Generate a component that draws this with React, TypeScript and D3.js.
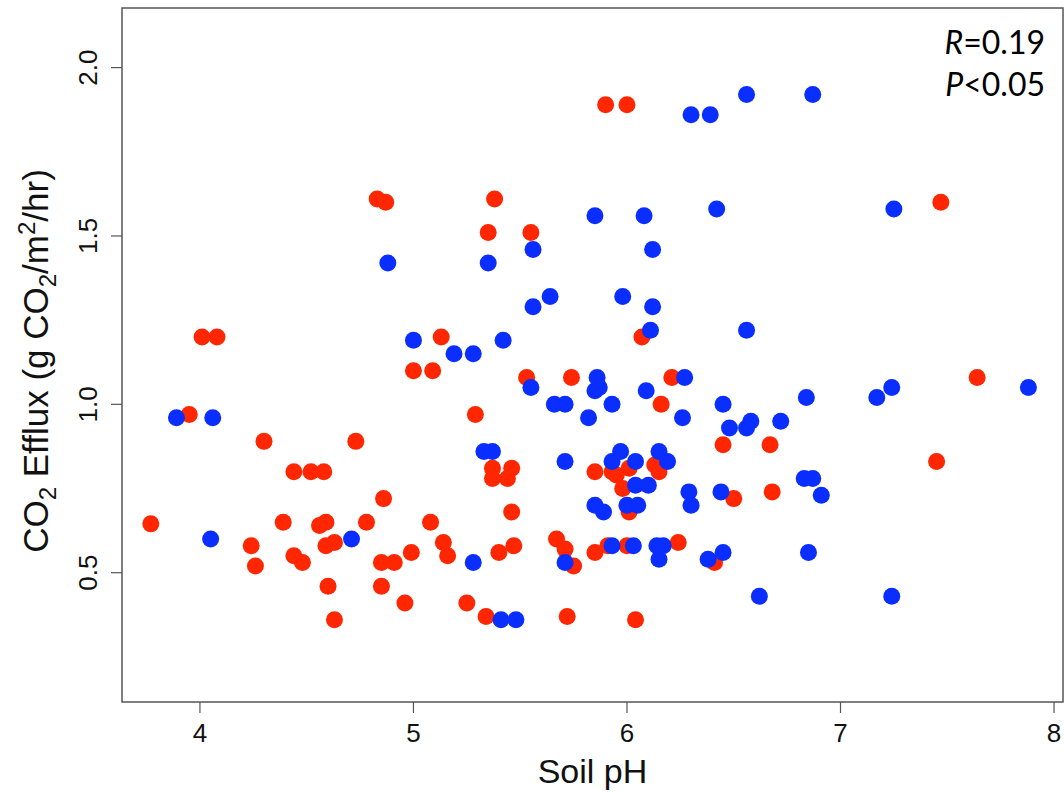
import * as d3 from "d3";

// red group (soil pH, CO2 efflux)
const redPH = [
  3.77, 3.95, 4.01, 4.08, 4.30, 4.24, 4.26, 4.39, 4.44, 4.44, 4.48, 4.52, 4.58, 4.56, 4.59, 4.59,
  4.63, 4.60, 4.63, 4.73, 4.78, 4.83, 4.87, 4.86, 4.85, 4.91, 4.85, 4.96, 4.99, 5.00, 5.09, 5.13,
  5.08, 5.14, 5.16, 5.25, 5.29, 5.35, 5.38, 5.34, 5.37, 5.37, 5.44, 5.46, 5.46, 5.40, 5.47, 5.53,
  5.55, 5.74, 5.67, 5.71, 5.75, 5.72, 5.90, 6.00, 5.85, 5.93, 5.95, 6.01, 5.98, 6.01, 6.13, 6.15,
  5.85, 5.91, 6.00, 6.24, 6.41, 6.04, 6.07, 6.21, 6.16, 6.45, 6.50, 6.67, 6.68, 7.45, 7.64, 7.47,
];
const redFlux = [
  0.645, 0.97, 1.20, 1.20, 0.89, 0.58, 0.52, 0.65, 0.80, 0.55, 0.53, 0.80, 0.80, 0.64, 0.65, 0.58,
  0.59, 0.46, 0.36, 0.89, 0.65, 1.61, 1.60, 0.72, 0.53, 0.53, 0.46, 0.41, 0.56, 1.10, 1.10, 1.20,
  0.65, 0.59, 0.55, 0.41, 0.97, 1.51, 1.61, 0.37, 0.81, 0.78, 0.78, 0.81, 0.68, 0.56, 0.58, 1.08,
  1.51, 1.08, 0.60, 0.57, 0.52, 0.37, 1.89, 1.89, 0.80, 0.80, 0.79, 0.81, 0.75, 0.68, 0.82, 0.80,
  0.56, 0.58, 0.58, 0.59, 0.53, 0.36, 1.20, 1.08, 1.00, 0.88, 0.72, 0.88, 0.74, 0.83, 1.08, 1.60,
];

// blue group
const bluePH = [
  3.89, 4.06, 4.05, 4.71, 4.88, 5.00, 5.19, 5.28, 5.28, 5.35, 5.33, 5.37, 5.41, 5.48, 5.42, 5.56,
  5.56, 5.64, 5.55, 5.66, 5.71, 5.71, 5.71, 5.82, 5.85, 5.86, 5.85, 5.87, 5.93, 5.85, 5.89, 5.93,
  5.97, 5.93, 5.98, 6.00, 6.05, 6.04, 6.04, 6.03, 6.08, 6.09, 6.10, 6.11, 6.12, 6.12, 6.15, 6.19,
  6.14, 6.17, 6.15, 6.27, 6.26, 6.29, 6.30, 6.30, 6.39, 6.38, 6.45, 6.42, 6.44, 6.45, 6.48, 6.56,
  6.58, 6.56, 6.56, 6.62, 6.72, 6.84, 6.83, 6.87, 6.91, 6.85, 6.87, 7.17, 7.24, 7.25, 7.24, 7.88,
];
const blueFlux = [
  0.96, 0.96, 0.60, 0.60, 1.42, 1.19, 1.15, 1.15, 0.53, 1.42, 0.86, 0.86, 0.36, 0.36, 1.19, 1.46,
  1.29, 1.32, 1.05, 1.00, 1.00, 0.83, 0.53, 0.96, 1.56, 1.08, 1.04, 1.05, 1.00, 0.70, 0.68, 0.83,
  0.86, 0.58, 1.32, 0.70, 0.70, 0.83, 0.76, 0.58, 1.56, 1.04, 0.76, 1.22, 1.46, 1.29, 0.86, 0.83,
  0.58, 0.58, 0.54, 1.08, 0.96, 0.74, 0.70, 1.86, 1.86, 0.54, 0.56, 1.58, 0.74, 1.00, 0.93, 0.93,
  0.95, 1.92, 1.22, 0.43, 0.95, 1.02, 0.78, 0.78, 0.73, 0.56, 1.92, 1.02, 1.05, 1.58, 0.43, 1.05,
];

const xTicks = [4, 5, 6, 7, 8];
const yTicks = [0.5, 1.0, 1.5, 2.0];

const width = 1064;
const height = 793;
const plot = { left: 122, right: 1063, top: 8, bottom: 702 };

const red = "#ff2600";
const blue = "#0a2eff";
const axisFont = "'Liberation Sans', Arial, Helvetica, sans-serif";

export default function App() {
  const x = d3.scaleLinear([3.635, 8.042], [plot.left, plot.right]);
  const y = d3.scaleLinear([0.116, 2.177], [plot.bottom, plot.top]);

  const redPts = redPH.map((p, i) => ({ p, f: redFlux[i] }));
  const bluePts = bluePH.map((p, i) => ({ p, f: blueFlux[i] }));

  const midX = (plot.left + plot.right) / 2;
  const midY = (plot.top + plot.bottom) / 2;

  return (
    <svg
      width={width}
      height={height}
      style={{ position: "absolute", left: 0, top: 0, background: "#fff" }}
      fontFamily={axisFont}
    >
      {/* points: red under blue */}
      {redPts.map((d, i) => (
        <circle key={"r" + i} cx={x(d.p)} cy={y(d.f)} r={8.5} fill={red} />
      ))}
      {bluePts.map((d, i) => (
        <circle key={"b" + i} cx={x(d.p)} cy={y(d.f)} r={8.5} fill={blue} />
      ))}

      {/* box */}
      <rect
        x={plot.left}
        y={plot.top}
        width={plot.right - plot.left}
        height={plot.bottom - plot.top}
        fill="none"
        stroke="#555"
        strokeWidth={1.5}
      />

      {/* x axis */}
      {xTicks.map((t) => (
        <g key={"x" + t}>
          <line x1={x(t)} x2={x(t)} y1={plot.bottom} y2={plot.bottom + 11} stroke="#555" strokeWidth={1.2} />
          <text x={x(t)} y={742} textAnchor="middle" fontSize={26} fill="#111">
            {t}
          </text>
        </g>
      ))}
      <text x={midX} y={783} textAnchor="middle" fontSize={34} fill="#111">
        Soil pH
      </text>

      {/* y axis */}
      {yTicks.map((t) => (
        <g key={"y" + t}>
          <line x1={plot.left - 11} x2={plot.left} y1={y(t)} y2={y(t)} stroke="#555" strokeWidth={1.2} />
          <text
            transform={`translate(97, ${y(t)}) rotate(-90)`}
            textAnchor="middle"
            fontSize={26}
            fill="#111"
          >
            {d3.format(".1f")(t)}
          </text>
        </g>
      ))}
      <text
        transform={`translate(48, ${midY + 6}) rotate(-90)`}
        textAnchor="middle"
        fontSize={35}
        fill="#111"
      >
        <tspan>CO</tspan>
        <tspan fontSize={24} dy={8}>2</tspan>
        <tspan dy={-8}> Efflux (g CO</tspan>
        <tspan fontSize={24} dy={8}>2</tspan>
        <tspan dy={-8}>/m</tspan>
        <tspan fontSize={24} dy={-13}>2</tspan>
        <tspan dy={13}>/hr)</tspan>
      </text>

      {/* stats */}
      <g fontFamily="Lato, 'Open Sans', sans-serif" fontSize={32} fill="#000">
        <text x={1045} y={54} textAnchor="end">
          <tspan fontStyle="italic">R</tspan>=0.19
        </text>
        <text x={1045} y={96} textAnchor="end">
          <tspan fontStyle="italic">P</tspan>&lt;0.05
        </text>
      </g>
    </svg>
  );
}
